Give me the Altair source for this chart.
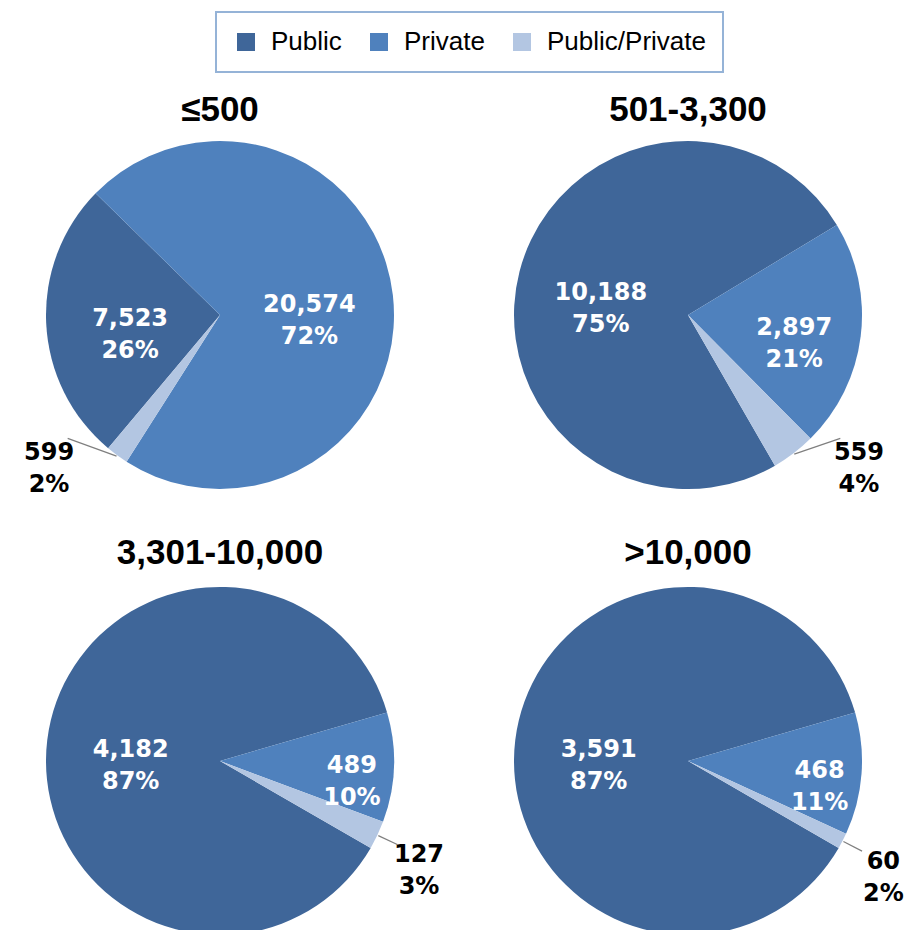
import math
import pandas as pd
import altair as alt

# ---- data ----
GROUPS = ["≤500", "501-3,300", "3,301-10,000", ">10,000"]
TYPES = ["Public", "Private", "Public/Private"]
PUBLIC = [7523, 10188, 4182, 3591]
PRIVATE = [20574, 2897, 489, 468]
PUBPRIV = [599, 559, 127, 60]
PCT_PUBLIC = [26, 75, 87, 87]
PCT_PRIVATE = [72, 21, 10, 11]
PCT_PUBPRIV = [2, 4, 3, 2]

# ---- styles ----
COLORS = ["#3f6699", "#4f81bd", "#b3c6e2"]
START_DEG = [220, 150, 120, 120]   # rotation of first slice, per pie
W = 424
ROW_H = [351, 320]
ROW_CY = [130, 130]               # pie centre inside each row's view
ROW_TITLE_OFFSET = [-15, -12]
R = 174
FONT = "DejaVu Sans"
MIN_FROM_BOTTOM = math.radians(51)  # outside labels are kept away from 6 o'clock

legend = alt.Legend(
    title=None, orient="none", legendX=208, legendY=4, direction="horizontal",
    symbolType="square", symbolSize=324, symbolOpacity=1, symbolStrokeWidth=0,
    labelFont="Liberation Sans", labelFontSize=26, labelColor="black",
    labelOffset=12, columnPadding=24, padding=17, strokeColor="#95b3d7",
)
color_enc = alt.Color("type:N", scale=alt.Scale(domain=TYPES, range=COLORS), legend=legend)


def pie(i, h, cy, toff):
    df = pd.DataFrame({
        "type": TYPES,
        "value": [PUBLIC[i], PRIVATE[i], PUBPRIV[i]],
        "pct": [PCT_PUBLIC[i], PCT_PRIVATE[i], PCT_PUBPRIV[i]],
        "order": [0, 1, 2],
    })
    a0 = math.radians(START_DEG[i])
    cx = W / 2
    base = alt.Chart(df)
    arcs = base.mark_arc(outerRadius=R).encode(
        theta=alt.Theta("value:Q", stack=True,
                        scale=alt.Scale(range=[a0, a0 + 2 * math.pi])),
        color=color_enc,
        order=alt.Order("order:Q", sort="ascending"),
        x=alt.value(cx),
        y=alt.value(cy),
    )
    m = MIN_FROM_BOTTOM
    lab = base.transform_joinaggregate(total="sum(value)").transform_window(
        cum="sum(value)", sort=[alt.SortField("order")], frame=[None, 0]
    ).transform_calculate(
        share="datum.value / datum.total",
        mid=f"{a0} + 2 * PI * (datum.cum - datum.value / 2) / datum.total",
    ).transform_calculate(
        m0="((datum.mid % (2 * PI)) + 2 * PI) % (2 * PI)",
    ).transform_calculate(
        out=f"abs(datum.m0 - PI) < {m} ? (datum.m0 < PI ? PI - {m} : PI + {m}) : datum.m0",
        small="datum.share < 0.05",
    ).transform_calculate(
        ang="datum.small ? datum.out : datum.mid",
        lr="datum.share >= 0.24 ? 90 : datum.share >= 0.15 ? 107 : datum.share >= 0.05 ? 132 : 220",
        label="format(datum.value, ',') + '\\n' + datum.pct + '%'",
    ).transform_calculate(
        lx=f"{cx} + datum.lr * sin(datum.ang)",
        ly=f"{cy} - datum.lr * cos(datum.ang)",
    )
    text = lab.mark_text(
        font=FONT, fontWeight="bold", fontSize=24, lineBreak="\n", lineHeight=32,
        align="center", baseline="middle",
    ).encode(
        x=alt.X("lx:Q", scale=None, axis=None),
        y=alt.Y("ly:Q", scale=None, axis=None),
        text="label:N",
        color=alt.condition("datum.share >= 0.05", alt.value("white"), alt.value("black")),
    )
    lines = lab.transform_filter("datum.small").transform_calculate(
        x1=f"{cx} + {R + 1} * sin(datum.mid)",
        y1=f"{cy} - {R + 1} * cos(datum.mid)",
        x2=f"{cx} + 196 * sin(datum.ang)",
        y2=f"{cy} - 196 * cos(datum.ang)",
    ).mark_rule(color="#7f7f7f", strokeWidth=1.2).encode(
        x=alt.X("x1:Q", scale=None, axis=None),
        y=alt.Y("y1:Q", scale=None, axis=None),
        x2="x2:Q",
        y2="y2:Q",
    )
    return alt.layer(arcs, lines, text).properties(
        width=W, height=h,
        title=alt.Title(GROUPS[i], font="Liberation Sans", fontSize=35, fontWeight="bold",
                        color="black", offset=toff, baseline="alphabetic", anchor="middle",
                        frame="group"),
    )


spacer = alt.Chart(pd.DataFrame({"type": TYPES})).mark_square(size=0, opacity=0).encode(
    color=color_enc
).properties(width=2 * W + 44, height=85)

row1 = alt.hconcat(pie(0, ROW_H[0], ROW_CY[0], ROW_TITLE_OFFSET[0]),
                   pie(1, ROW_H[0], ROW_CY[0], ROW_TITLE_OFFSET[0]),
                   spacing=44, bounds="flush").resolve_scale(theta="independent")
row2 = alt.hconcat(pie(2, ROW_H[1], ROW_CY[1], ROW_TITLE_OFFSET[1]),
                   pie(3, ROW_H[1], ROW_CY[1], ROW_TITLE_OFFSET[1]),
                   spacing=44, bounds="flush").resolve_scale(theta="independent")

chart = alt.vconcat(spacer, row1, row2, spacing=0).resolve_scale(
    theta="independent", color="shared"
).properties(padding=0, background="white").configure_view(
    stroke=None, fill="white", fillOpacity=0
).configure_legend(strokeWidth=2)

chart.save("out.html", embed_options={"renderer": "svg", "actions": False})
